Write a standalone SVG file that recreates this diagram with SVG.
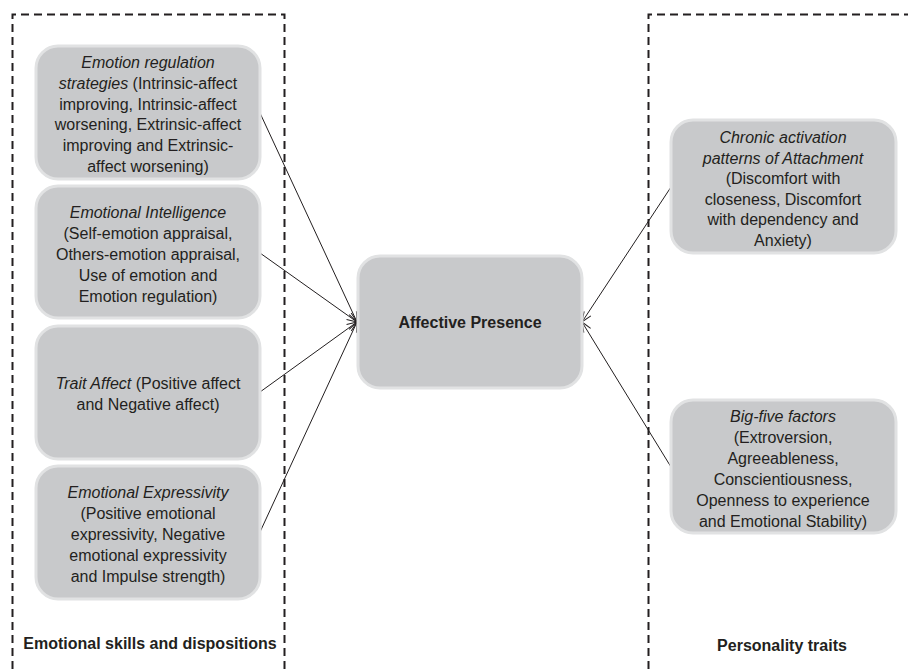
<svg xmlns="http://www.w3.org/2000/svg" width="908" height="669" viewBox="0 0 908 669">
<defs>
<marker id="arr" markerWidth="12" markerHeight="12" refX="11" refY="6" orient="auto" markerUnits="userSpaceOnUse">
<path d="M1,2 L11,6 L1,10" fill="none" stroke="#231f20" stroke-width="1"/>
</marker>
</defs>
<style>
.bg{fill:#ffffff}
.frame{fill:none;stroke:#231f20;stroke-width:2;stroke-dasharray:8,5}
.node{fill:#c8c9cb;stroke:#e1e2e3;stroke-width:3}
.t{font-family:"Liberation Sans",Arial,sans-serif;font-size:16px;fill:#231f20;text-anchor:middle}
.i{font-style:italic}
.b{font-weight:bold}
.edge{fill:none;stroke:#231f20;stroke-width:1;marker-end:url(#arr)}
.tick{stroke:#231f20;stroke-width:1.5}
</style>
<rect class="bg" x="0" y="0" width="908" height="669"/>
<g id="groups">
<path class="frame" d="M12.5,669 V14.5 H284.5 V669"/>
<path class="frame" d="M648.5,669 V14.5 H908"/>
<text class="t b" x="150" y="649">Emotional skills and dispositions</text>
<text class="t b" x="782" y="651">Personality traits</text>
</g>
<g id="connectors">
<line class="edge" x1="260" y1="113" x2="357" y2="322"/>
<line class="edge" x1="260" y1="253" x2="357" y2="322"/>
<line class="edge" x1="260" y1="392" x2="357" y2="322"/>
<line class="edge" x1="260" y1="532" x2="357" y2="322"/>
<line class="edge" x1="671" y1="187" x2="582" y2="322"/>
<line class="edge" x1="671" y1="467" x2="582" y2="322"/>
<line class="tick" x1="358" y1="310" x2="358" y2="333"/>
<line class="tick" x1="582" y1="311" x2="582" y2="333"/>
</g>
<g id="n1">
<rect class="node" x="36" y="46" width="224" height="133" rx="22"/>
<text class="t" x="148" y="68"><tspan class="i">Emotion regulation</tspan><tspan x="148" dy="20.8"><tspan class="i">strategies</tspan> (Intrinsic-affect</tspan><tspan x="148" dy="20.8">improving, Intrinsic-affect</tspan><tspan x="148" dy="20.8">worsening, Extrinsic-affect</tspan><tspan x="148" dy="20.8">improving and Extrinsic-</tspan><tspan x="148" dy="20.8">affect worsening)</tspan></text>
</g>
<g id="n2">
<rect class="node" x="36" y="186" width="224" height="132" rx="22"/>
<text class="t" x="148" y="218"><tspan class="i">Emotional Intelligence</tspan><tspan x="148" dy="21">(Self-emotion appraisal,</tspan><tspan x="148" dy="21">Others-emotion appraisal,</tspan><tspan x="148" dy="21">Use of emotion and</tspan><tspan x="148" dy="21">Emotion regulation)</tspan></text>
</g>
<g id="n3">
<rect class="node" x="36" y="326" width="224" height="133" rx="22"/>
<text class="t" x="148" y="389"><tspan class="i">Trait Affect</tspan> (Positive affect<tspan x="148" dy="21">and Negative affect)</tspan></text>
</g>
<g id="n4">
<rect class="node" x="36" y="466" width="224" height="133" rx="22"/>
<text class="t" x="148" y="498"><tspan class="i">Emotional Expressivity</tspan><tspan x="148" dy="21">(Positive emotional</tspan><tspan x="148" dy="21">expressivity, Negative</tspan><tspan x="148" dy="21">emotional expressivity</tspan><tspan x="148" dy="21">and Impulse strength)</tspan></text>
</g>
<g id="center">
<rect class="node" x="358" y="256" width="224" height="132" rx="22"/>
<text class="t b" x="470" y="328">Affective Presence</text>
</g>
<g id="n5">
<rect class="node" x="671" y="120" width="225" height="133" rx="22"/>
<text class="t" x="783" y="143"><tspan class="i">Chronic activation</tspan><tspan class="i" x="783" dy="20.6">patterns of Attachment</tspan><tspan x="783" dy="20.6">(Discomfort with</tspan><tspan x="783" dy="20.6">closeness, Discomfort</tspan><tspan x="783" dy="20.6">with dependency and</tspan><tspan x="783" dy="20.6">Anxiety)</tspan></text>
</g>
<g id="n6">
<rect class="node" x="671" y="400" width="225" height="133" rx="22"/>
<text class="t" x="783" y="422"><tspan class="i">Big-five factors</tspan><tspan x="783" dy="21">(Extroversion,</tspan><tspan x="783" dy="21">Agreeableness,</tspan><tspan x="783" dy="21">Conscientiousness,</tspan><tspan x="783" dy="21">Openness to experience</tspan><tspan x="783" dy="21">and Emotional Stability)</tspan></text>
</g>
</svg>
